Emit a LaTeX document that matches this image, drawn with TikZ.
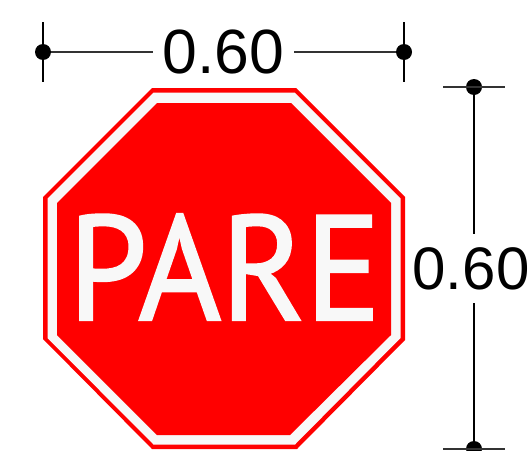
\documentclass[tikz,border=0pt]{standalone}
\usepackage{fontspec}
\setmainfont{Liberation Sans}
\newfontfamily\signfont[FakeBold=1.6]{PT Sans}
\definecolor{signred}{RGB}{255,0,0}
\definecolor{signwhite}{RGB}{248,248,248}
\tikzset{
  dimline/.style={line width=1.5pt,black},
  tickline/.style={line width=1.2pt,black!80},
  dimdot/.style={circle,fill=black,inner sep=0pt,minimum size=16pt},
  dimlabel/.style={inner sep=0pt,font=\fontsize{62.5pt}{63pt}\selectfont},
  sidelabel/.style={inner sep=0pt,font=\fontsize{60pt}{60pt}\selectfont},
}
\begin{document}
\begin{tikzpicture}[x=1pt,y=-1pt]
\useasboundingbox[fill=white] (0,0) rectangle (530,450);
\fill[signred] (152,88)--(296,88)--(405,197)--(405,340)--(297,449)--(152,449)--(43,339)--(43,197)--cycle;
\fill[signwhite] (153.5,92.5)--(294.5,92.5)--(400.5,198.5)--(400.5,338)--(295,444.5)--(153.5,444.5)--(47.5,338)--(47.5,198.5)--cycle;
\fill[signred] (157,103)--(291,103)--(391,203)--(391,335)--(290,435)--(157,435)--(57,335)--(57,203)--cycle;
\node[inner sep=0pt,text=signwhite] (sign) at (224.5,267) {\resizebox{312pt}{106pt}{\signfont PARE}};
% top dimension
\node[dimdot] (tl) at (43,52) {};
\node[dimdot] (tr) at (404,52) {};
\node[dimlabel,minimum width=141pt] (tw) at (223.5,52) {0.60};
\coordinate (tla) at (43,22); \coordinate (tlb) at (43,82);
\coordinate (tra) at (404,22); \coordinate (trb) at (404,82);
\draw[dimline] (tla) -- (tlb);
\draw[dimline] (tra) -- (trb);
\draw[tickline] (tl) -- (tl -| tw.west);
\draw[tickline] (tr) -- (tr -| tw.east);
% right dimension
\node[dimdot] (rt) at (474,87) {};
\node[dimdot] (rb) at (474,449) {};
\node[sidelabel,minimum height=69pt] (rh) at (471,268.5) {0.60};
\coordinate (rta) at (443,87); \coordinate (rtb) at (505,87);
\coordinate (rba) at (443,449); \coordinate (rbb) at (505,449);
\draw[tickline] (rta) -- (rtb);
\draw[tickline] (rba) -- (rbb);
\draw[dimline] (rt) -- (rt |- rh.north);
\draw[dimline] (rb) -- (rb |- rh.south);
\end{tikzpicture}
\end{document}
